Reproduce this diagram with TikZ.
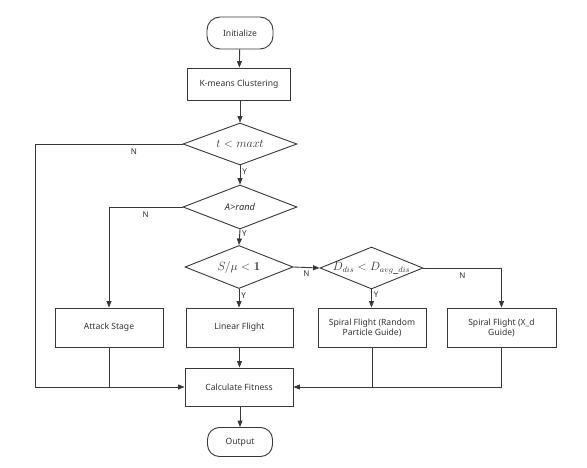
\documentclass[tikz,border=0pt]{standalone}
\usepackage[no-math]{fontspec}
\setmainfont{Noto Sans}
\usetikzlibrary{arrows.meta,shapes.geometric}
\definecolor{ln}{HTML}{383838}
\definecolor{tx}{HTML}{333333}
\tikzset{
  base/.style={draw=ln, line width=0.9pt, text=tx, font=\fontsize{8.6}{10}\selectfont, align=center, inner sep=1pt},
  term/.style={base, rectangle, rounded corners=13pt},
  procbox/.style={base, rectangle},
  dia/.style={base, diamond, inner sep=0pt},
  conn/.style={draw=ln, line width=0.9pt},
  arr/.style={conn, -{Triangle[length=6.5pt,width=5pt]}},
  yn/.style={text=tx, font=\fontsize{8}{9}\selectfont, inner sep=0pt},
  mlab/.style={text=tx, font=\fontsize{12}{14}\selectfont, inner sep=0pt}
}
\begin{document}
\begin{tikzpicture}[x=1pt,y=-1pt]
\useasboundingbox[fill=white] (0,0) rectangle (587,468);
\node[term, minimum width=66pt, minimum height=32pt] (init) at (240,33) {Initialize};
\node[procbox, minimum width=103pt, minimum height=32pt] (km) at (239,84) {K-means Clustering};
\node[dia, minimum width=114pt, minimum height=42pt] (d1) at (240,144) {};
\node[mlab] (t1) at (d1) {$t<maxt$};
\node[dia, minimum width=114pt, minimum height=44pt] (d2) at (240,207) {};
\node[text=tx, font=\fontsize{9.3}{11}\selectfont\itshape, inner sep=0pt] (t2) at (d2) {A>rand};
\node[dia, minimum width=108pt, minimum height=43pt] (d3) at (239,267) {};
\node[mlab] (t3) at (d3) {$S/\mu<\mathbf{1}$};
\node[dia, minimum width=103pt, minimum height=42pt] (d4) at (371.5,268) {};
\node[mlab] (t4) at (d4) {$D_{dis}<D_{avg\_dis}$};
\node[procbox, minimum width=108pt, minimum height=39pt] (att) at (109,327.5) {Attack Stage};
\node[procbox, minimum width=107pt, minimum height=39pt] (lin) at (239.5,327.5) {Linear Flight};
\node[procbox, minimum width=108pt, minimum height=39pt] (spr) at (372,327.5) {Spiral Flight (Random\\Particle Guide)};
\node[procbox, minimum width=109pt, minimum height=39pt] (spx) at (501.5,327.5) {Spiral Flight (X\_d\\Guide)};
\node[procbox, minimum width=108pt, minimum height=38pt] (calc) at (239,387) {Calculate Fitness};
\node[term, minimum width=65pt, minimum height=29pt, rounded corners=12pt] (out) at (240,442) {Output};
\coordinate (lt) at (35,144);
\coordinate (lb) at (35,387);
% connectors
\draw[arr] (init) -- (km);
\draw[arr] (km.south -| d1.north) -- (d1.north);
\draw[arr] (d1.south) -- node[yn, pos=0.3, right=2pt] (y1) {Y} (d2.north);
\draw[arr] (d2.south) -- node[yn, pos=0.3, right=2pt] (y2) {Y} (d3.north);
\draw[arr] (d3.south) -- node[yn, pos=0.35, right=2pt] (y3) {Y} (lin.north -| d3.south);
\draw[arr] (d3.east) -- node[yn, below=3pt] (n3) {N} (d4.west);
\draw[arr] (d4.south) -- node[yn, pos=0.3, right=2pt] (y4) {Y} (spr.north -| d4.south);
\draw[arr] (d4.east) -- node[yn, below=4pt] (n4) {N} (d4.east -| spx.north) -- (spx.north);
\draw[arr] (d2.west) -- node[yn, below=4pt] (n2) {N} (d2.west -| att.north) -- (att.north);
\draw[arr] (d1.west) -- node[yn, pos=0.33, below=4pt] (n1) {N} (lt) -- (lb) -- (calc.west);
\draw[conn] (att.south) -- (att.south |- calc.west);
\draw[arr] (lin.south) -- (lin.south |- calc.north);
\draw[arr] (spr.south) |- (calc.east);
\draw[conn] (spx.south) |- (spr.south |- calc.east);
\draw[arr] (calc.south -| out.north) -- (out.north);
\end{tikzpicture}
\end{document}
